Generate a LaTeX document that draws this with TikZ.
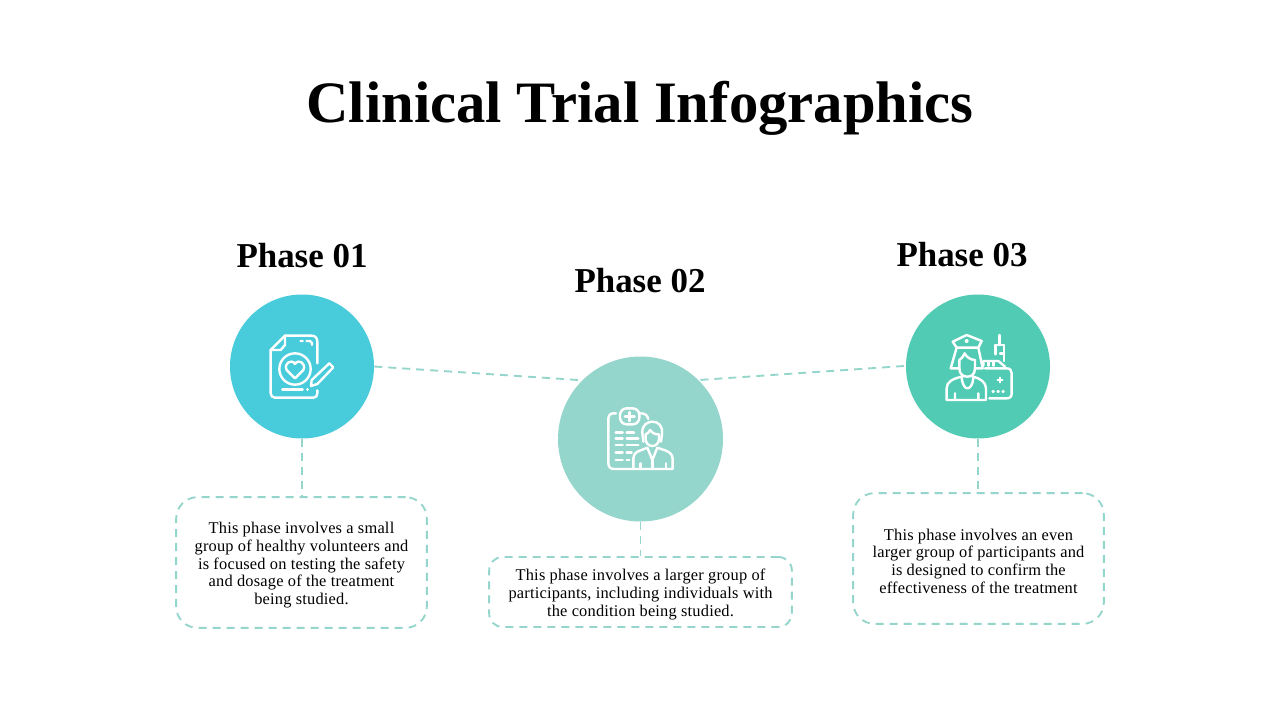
\documentclass[tikz,border=0pt]{standalone}
\usepackage{fontspec}
\setmainfont{Liberation Serif}
\newfontfamily\bodyfont[LetterSpace=1.2]{Liberation Serif}
\newcommand{\topfix}{\rule{0pt}{12.5pt}}
\definecolor{linec}{HTML}{94D6CC}
\definecolor{cone}{HTML}{48CBDA}
\definecolor{cthree}{HTML}{52CBB5}
\tikzset{
  titletext/.style={font=\fontsize{44}{48}\selectfont\bfseries,inner sep=0pt},
  phasetext/.style={font=\fontsize{26.2}{30}\selectfont\bfseries,inner sep=0pt},
  disc/.style={circle,inner sep=0pt,minimum size=#1*0.75pt},
  dashline/.style={draw=linec,line width=1.4pt,dash pattern=on 6pt off 4.5pt},
  infobox/.style={dashline,align=center,inner sep=0pt,font=\bodyfont\fontsize{12.3}{13.2}\selectfont},
  iconline/.style={draw=white,line width=1.8pt,line join=round,line cap=round},
  iconscope/.style={x=0.25pt,y=-0.25pt}
}
\begin{document}
\begin{tikzpicture}[x=0.75pt,y=-0.75pt]
\path[use as bounding box,fill=white] (0,0) rectangle (1280,720);
\node[titletext] (title) at (640,108) {Clinical Trial Infographics};
\node[phasetext] (p1) at (302,255.5) {Phase 01};
\node[phasetext] (p2) at (640,280.5) {Phase 02};
\node[phasetext] (p3) at (962,254.5) {Phase 03};
\node[disc=144,fill=cone] (c1) at (302,366.5) {};
\node[disc=165,fill=linec] (c2) at (640.5,439) {};
\node[disc=144,fill=cthree] (c3) at (978,366.5) {};
\node[infobox,minimum width=188pt,minimum height=98pt,rounded corners=16pt] (b1) at (301.5,562.5)
 {\topfix This phase involves a small\\group of healthy volunteers and\\is focused on testing the safety\\and dosage of the treatment\\being studied.};
\node[infobox,minimum width=227pt,minimum height=52.5pt,rounded corners=10pt] (b2) at (640.5,592)
 {\topfix This phase involves a larger group of\\participants, including individuals with\\the condition being studied.};
\node[infobox,minimum width=188pt,minimum height=98pt,rounded corners=16pt] (b3) at (978.5,558.5)
 {\topfix This phase involves an even\\larger group of participants and\\is designed to confirm the\\effectiveness of the treatment};
\coordinate (e1) at (578,380);
\coordinate (e3) at (699,380);
\coordinate (s3) at (904,366);
\draw[dashline] (c1.east) -- (e1);
\draw[dashline] (s3) -- (e3);
\draw[dashline] (c1.south) -- (b1.north -| c1.south);
\draw[dashline] (c2.south) -- (b2.north -| c2.south);
\draw[dashline] (c3.south) -- (b3.north -| c3.south);
% icon 1
\begin{scope}[shift={(230,295)},iconscope]
\draw[iconline] (262,205) -- (262,140) .. controls (262,128) and (255,122) .. (245,122) -- (165,122) -- (122,165) -- (122,295) .. controls (122,303) and (128,308) .. (135,308) -- (250,308) .. controls (258,308) and (262,303) .. (262,295) -- (262,286);
\draw[iconline] (165,122) -- (165,150) -- (152,165) -- (122,165);
\draw[iconline] (212,138) -- (218,138) (230,138) -- (240,138) -- (246,144) -- (246,150);
\draw[iconline] (195,222) circle[radius=47];
\draw[iconline] (195,250) -- (170,225) .. controls (160,205) and (185,190) .. (195,207) .. controls (205,190) and (230,205) .. (220,225) -- cycle;
\draw[iconline] (245,255) -- (298,205) -- (310,217) -- (262,267) -- (243,273) -- cycle;
\draw[iconline] (157,283) -- (218,283) (232,283) -- (233,283);
\end{scope}
% icon 2
\begin{scope}[shift={(590,395)},iconscope]
\draw[iconline] (78,55) -- (70,55) .. controls (60,55) and (55,62) .. (55,72) -- (55,205) .. controls (55,216) and (62,222) .. (72,222) -- (130,222) -- (248,222) -- (248,192) .. controls (248,178) and (238,170) .. (225,166) -- (202,158) -- (187,195) -- (172,158) -- (152,166) .. controls (138,170) and (130,178) .. (130,192) -- (130,222);
\draw[iconline,rounded corners=5pt] (90,40) rectangle (148,88);
\draw[iconline,line width=2.2pt] (119,52) -- (119,78) (105,65) -- (133,65);
\draw[iconline] (150,55) .. controls (165,55) and (172,60) .. (175,72);
\draw[iconline] (77,113) -- (98,113) (110,113) -- (132,113) (77,130) -- (98,130) (110,130) -- (145,130) (77,150) -- (98,150) (110,150) -- (145,150) (77,172) -- (98,172) (110,172) -- (125,172) (77,195) -- (98,195) (110,195) -- (118,195);
\draw[iconline] (160,140) -- (157,115) .. controls (155,92) and (170,80) .. (187,80) .. controls (205,80) and (218,92) .. (216,115) -- (213,140);
\draw[iconline] (167,118) -- (167,132) .. controls (167,145) and (177,153) .. (187,153) .. controls (197,153) and (207,145) .. (207,132) -- (207,118) .. controls (195,120) and (185,112) .. (180,105) .. controls (178,112) and (172,116) .. (167,118);
\draw[iconline] (187,195) -- (187,222) (152,205) -- (152,222) (228,205) -- (228,222);
\end{scope}
% icon 3
\begin{scope}[shift={(930,325)},iconscope]
\draw[iconline] (68,50) -- (110,30) -- (155,48) -- (145,68) -- (80,68) -- cycle;
\fill[white] (110,48) circle[radius=6];
\draw[iconline] (80,68) -- (62,130) -- (88,130) (145,68) -- (158,130) -- (135,130);
\draw[iconline] (88,130) .. controls (88,148) and (100,155) .. (112,155) .. controls (124,155) and (135,148) .. (135,130) -- (135,105) .. controls (122,105) and (108,95) .. (104,85) .. controls (100,95) and (95,100) .. (88,105) -- cycle;
\draw[iconline] (98,152) -- (95,160) .. controls (98,180) and (105,190) .. (112,190) .. controls (120,190) and (128,180) .. (130,160) -- (127,152);
\draw[iconline] (50,225) -- (50,190) .. controls (50,172) and (65,162) .. (95,155) (130,155) .. controls (150,160) and (168,172) .. (168,190) -- (168,225) -- (50,225) (75,205) -- (75,225) (145,205) -- (145,225);
\draw[iconline] (165,130) -- (230,130) .. controls (240,130) and (245,136) .. (245,145) -- (245,205) .. controls (245,215) and (240,220) .. (230,220) -- (178,220);
\draw[iconline] (160,122) -- (160,108) -- (205,108) -- (225,125);
\draw[iconline] (176,108) -- (176,122) (190,108) -- (190,122);
\draw[iconline] (208,30) -- (208,60) (195,60) -- (222,60) (197,60) -- (197,88) (222,60) -- (222,108) (210,85) -- (222,85);
\draw[iconline] (210,158) -- (210,172) (203,165) -- (217,165);
\draw[iconline] (188,200) -- (191,200) (203,200) -- (206,200) (218,200) -- (221,200);
\end{scope}
\end{tikzpicture}
\end{document}
